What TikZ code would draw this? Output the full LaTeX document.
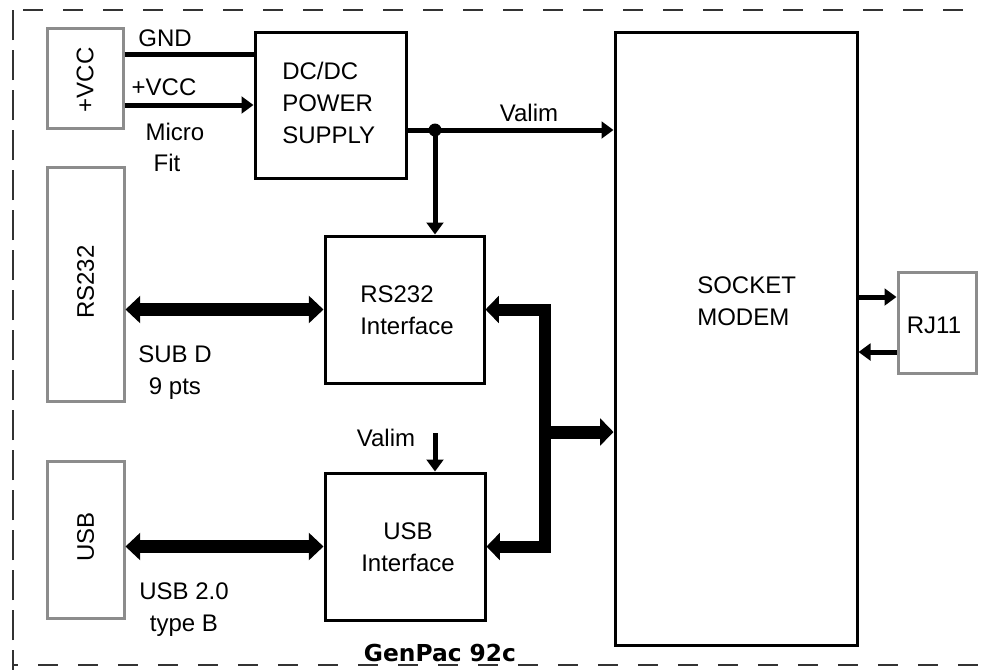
\documentclass[tikz,border=0pt]{standalone}
\usepackage{fontspec}
\setmainfont{Liberation Sans}
\newfontfamily\genfont{DejaVu Sans}
\usetikzlibrary{arrows.meta,calc}
\begin{document}
\begin{tikzpicture}[x=0.75pt,y=-0.75pt,
  lbl/.style={font=\fontsize{18}{24}\selectfont, inner sep=0pt, align=center},
  blk/.style={draw=black, line width=2.25pt, inner sep=0pt, minimum width=#1},
  gry/.style={draw=black!45, line width=2.25pt, inner sep=0pt},
  thin/.style={line width=3.75pt, -{Triangle[width=12.5pt,length=9pt]}},
  wire/.style={line width=3.75pt},
  fat/.style={line width=9.75pt, {Triangle[width=20pt,length=11pt]}-{Triangle[width=20pt,length=11pt]}},
  busline/.style={line width=9pt, line join=miter, {Triangle[width=20pt,length=10pt]}-{Triangle[width=20pt,length=10pt]}},
  fatone/.style={line width=9.75pt, -{Triangle[width=20pt,length=10pt]}},
  border/.style={draw=black!80, line width=1.5pt, dash pattern=on 15pt off 15pt}
]
\useasboundingbox (0,0) rectangle (981,669);
\clip (0,0) rectangle (981,669);
\fill[white] (0,0) rectangle (981,669);

% outer dashed frame
\draw[border] (13,1200) -- (13,10) -- (1000,10);
\draw[border] (13,10) -- (13,665) -- (1000,665);

% boxes
\node[gry, minimum width=57pt, minimum height=75pt] (vcc) at (85,78) {};
\node[blk=113.25pt, minimum height=109.5pt] (dcdc) at (330.5,105) {};
\node[gry, minimum width=57.75pt, minimum height=175.5pt] (rs) at (85.5,284) {};
\node[blk=119.25pt, minimum height=110.25pt] (rsif) at (404.5,309.5) {};
\node[gry, minimum width=57.75pt, minimum height=117.75pt] (usb) at (85.5,539.5) {};
\node[blk=120pt, minimum height=110.25pt] (usbif) at (405,546.5) {};
\node[blk=181.5pt, minimum height=459.75pt] (modem) at (736,338.5) {};
\node[gry, minimum width=58.5pt, minimum height=75.75pt] (rj) at (937,322.5) {};

% texts in boxes
\node[lbl, rotate=90] (tvcc) at (85,80) {+VCC};
\node[lbl, rotate=90] (trs) at (85.5,282) {RS232};
\node[lbl, rotate=90] (tusb) at (85.5,537) {USB};
\node[lbl, align=left, anchor=west] (tdc) at (282,103) {DC/DC\\POWER\\SUPPLY};
\node[lbl, align=left, anchor=west] (trsif) at (360,310) {RS232\\Interface};
\node[lbl] (tusbif) at (408,547) {USB\\Interface};
\node[lbl, align=left, anchor=west] (tmod) at (697,301) {SOCKET\\MODEM};
\node[lbl] (trj) at (934,325) {RJ11};

% labels
\node[lbl] (lgnd) at (165,38) {GND};
\node[lbl] (lvcc) at (164,87) {+VCC};
\node[lbl] (lmicro) at (175,132) {Micro};
\node[lbl] (lfit) at (167,163) {Fit};
\node[lbl] (lvalim) at (529,113) {Valim};
\node[lbl] (lsubd) at (175,373) {SUB D\\9 pts};
\node[lbl] (lvalim2) at (386,438) {Valim};
\node[lbl, line width=0pt] (lusb) at (184,610) {USB 2.0\\type B};
\node[font=\genfont\bfseries\fontsize{17.5}{20}\selectfont, inner sep=0pt] (gen) at (440,653) {GenPac 92c};

% power wiring
\coordinate (j) at (435,130);
\coordinate (v2) at (435,433);
\draw[wire] (vcc.east |- 0,54) -- (dcdc.west |- 0,54);
\draw[thin] (vcc.east |- 0,105) -- (dcdc.west |- 0,105);
\draw[thin] (dcdc.east |- j) -- (modem.west |- j);
\draw[thin] (j) -- (j |- rsif.north);
\fill (j) circle[radius=6.5];
\draw[thin] (v2) -- (v2 |- usbif.north);

% data links
\draw[fat] (rsif.west -| rs.east) -- (rsif.west);
\draw[fat] (usbif.west -| usb.east) -- (usbif.west);
\coordinate (bm) at (545,432);
\draw[busline] (rsif.east) -| (bm) |- (usbif.east);
\draw[fatone] (bm) -- (modem.west |- bm);

% RJ11 links
\draw[thin] (modem.east |- 0,297) -- (rj.west |- 0,297);
\draw[thin] (rj.west |- 0,352) -- (modem.east |- 0,352);
\end{tikzpicture}
\end{document}
